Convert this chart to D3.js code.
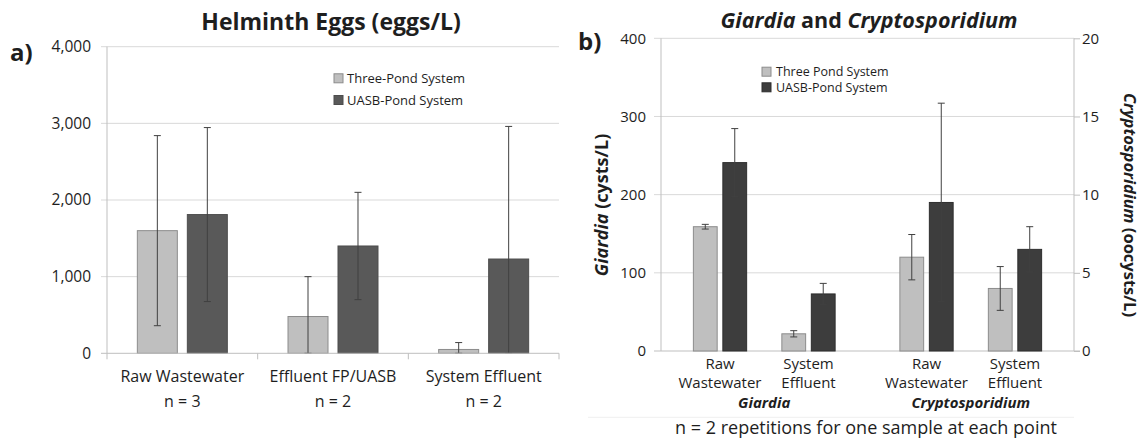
<!DOCTYPE html>
<html><head><meta charset="utf-8">
<script src="https://cdn.jsdelivr.net/npm/d3@7"></script>
<style>
body{margin:0;background:#fff;}
svg{display:block;font-family:"Open Sans",sans-serif;}
</style></head><body>
<svg id="chart" width="1144" height="441"></svg>
<script>
// ---------- DATA ----------
const seriesNamesA = ["Three-Pond System", "UASB-Pond System"];
const helminthCategories = ["Raw Wastewater", "Effluent FP/UASB", "System Effluent"];
const helminthN = ["n = 3", "n = 2", "n = 2"];
const helminthThreePond = [1600, 480, 50];
const helminthThreePondErr = [1240, 520, 90];
const helminthUASB = [1810, 1400, 1230];
const helminthUASBErr = [1135, 700, 1730];
const helminthTicks = [0, 1000, 2000, 3000, 4000];

const seriesNamesB = ["Three Pond System", "UASB-Pond System"];
const pathogenGroups = ["Giardia", "Cryptosporidium"];
const samplePoints = ["Raw Wastewater", "System Effluent"];
const samplePointLines = [["Raw", "Wastewater"], ["System", "Effluent"]];
const giardiaThreePond = [159, 22];
const giardiaThreePondErr = [3, 4];
const giardiaUASB = [241, 73];
const giardiaUASBErr = [43.5, 13.5];
const cryptoThreePond = [6.0, 4.0];
const cryptoThreePondErr = [1.45, 1.4];
const cryptoUASB = [9.5, 6.5];
const cryptoUASBErr = [6.35, 1.45];
const giardiaTicks = [0, 100, 200, 300, 400];
const cryptoTicks = [0, 5, 10, 15, 20];

// ---------- STYLE ----------
const svg = d3.select("#chart");
const textColor = "#1e1e1e";
const gridColor = "#d9d9d9";
const axisColor = "#bfbfbf";
const lightFill = "#bfbfbf", lightStroke = "#8c8c8c";
const darkFillA = "#595959", darkStrokeA = "#4d4d4d";
const darkFillB = "#3d3d3d", darkStrokeB = "#2e2e2e";
const errColor = "#404040";

function errorBar(g, x, yScale, v, e, cap) {
  const lo = Math.max(yScale.domain()[0], v - e);
  const hi = v + e;
  g.append("line").attr("x1", x).attr("x2", x).attr("y1", yScale(lo)).attr("y2", yScale(hi))
    .attr("stroke", errColor).attr("stroke-width", 1);
  [lo, hi].forEach(val => {
    g.append("line").attr("x1", x - cap).attr("x2", x + cap).attr("y1", yScale(val)).attr("y2", yScale(val))
      .attr("stroke", errColor).attr("stroke-width", 1);
  });
}

// ---------- PANEL A ----------
const A = {left: 107, right: 559, top: 46.7, bottom: 353.3};
const xA = d3.scaleBand().domain(helminthCategories).range([A.left, A.right]).padding(0);
const sA = d3.scaleBand().domain(seriesNamesA).range([0, xA.bandwidth()]).paddingInner(0.2).paddingOuter(0.607);
const yA = d3.scaleLinear().domain([0, 4000]).range([A.bottom, A.top]);
const gA = svg.append("g");

gA.selectAll("line.grid").data(helminthTicks.filter(d => d > 0)).join("line")
  .attr("x1", A.left - 6).attr("x2", A.right).attr("y1", d => yA(d)).attr("y2", d => yA(d))
  .attr("stroke", gridColor).attr("stroke-width", 1);
gA.append("line").attr("x1", A.left).attr("x2", A.left).attr("y1", A.top).attr("y2", A.bottom)
  .attr("stroke", axisColor);

const yAxisA = gA.append("g").attr("transform", `translate(${A.left},0)`)
  .call(d3.axisLeft(yA).tickValues(helminthTicks).tickSize(0).tickPadding(16).tickFormat(d3.format(",")));
yAxisA.select(".domain").remove();
yAxisA.selectAll("text").attr("fill", textColor).style("font-size", "15.5px").style("font-family", '"Open Sans",sans-serif');

// bars
const barsA = [
  {name: seriesNamesA[0], vals: helminthThreePond, errs: helminthThreePondErr, fill: lightFill, stroke: lightStroke},
  {name: seriesNamesA[1], vals: helminthUASB, errs: helminthUASBErr, fill: darkFillA, stroke: darkStrokeA}
];
barsA.forEach(s => {
  helminthCategories.forEach((c, i) => {
    const x = xA(c) + sA(s.name);
    gA.append("rect").attr("x", x).attr("y", yA(s.vals[i])).attr("width", sA.bandwidth())
      .attr("height", yA(0) - yA(s.vals[i])).attr("fill", s.fill).attr("stroke", s.stroke).attr("stroke-width", 1);
  });
});
barsA.forEach(s => {
  helminthCategories.forEach((c, i) => {
    errorBar(gA, xA(c) + sA(s.name) + sA.bandwidth() / 2, yA, s.vals[i], s.errs[i], 3.5);
  });
});
// x axis
gA.append("line").attr("x1", A.left - 6).attr("x2", A.right).attr("y1", A.bottom).attr("y2", A.bottom)
  .attr("stroke", axisColor);
[...helminthCategories.map(c => xA(c)), A.right].forEach(x => {
  gA.append("line").attr("x1", x).attr("x2", x).attr("y1", A.bottom).attr("y2", A.bottom + 6).attr("stroke", axisColor);
});
helminthCategories.forEach((c, i) => {
  const cx = xA(c) + xA.bandwidth() / 2;
  gA.append("text").attr("x", cx).attr("y", 382).attr("text-anchor", "middle").attr("fill", textColor)
    .style("font-size", "16px").text(c);
  gA.append("text").attr("x", cx).attr("y", 407).attr("text-anchor", "middle").attr("fill", textColor)
    .style("font-size", "16px").text(helminthN[i]);
});
// legend
barsA.forEach((s, i) => {
  const cy = 78.3 + i * 21.7;
  gA.append("rect").attr("x", 334).attr("y", cy - 4.5).attr("width", 9).attr("height", 9)
    .attr("fill", s.fill).attr("stroke", s.stroke);
  gA.append("text").attr("x", 347).attr("y", cy).attr("dy", "0.35em").attr("fill", textColor)
    .style("font-size", "13px").text(s.name);
});
// title
gA.append("text").attr("x", 331).attr("y", 30).attr("text-anchor", "middle").attr("fill", textColor)
  .style("font-size", "23px").style("font-weight", "bold").text("Helminth Eggs (eggs/L)");
svg.append("text").attr("x", 10).attr("y", 61).attr("fill", textColor)
  .style("font-size", "24px").style("font-weight", "bold").text("a)");

// ---------- PANEL B ----------
const B = {left: 661, right: 1074, top: 38.3, bottom: 351};
const x0 = d3.scaleBand().domain(pathogenGroups).range([B.left, B.right]).padding(0);
const x1 = d3.scaleBand().domain(samplePoints).range([0, x0.bandwidth()]).paddingInner(0).paddingOuter(0.167);
const x2 = d3.scaleBand().domain(seriesNamesB).range([0, x1.bandwidth()]).paddingInner(0.193).paddingOuter(0.597);
const yG = d3.scaleLinear().domain([0, 400]).range([B.bottom, B.top]);
const yC = d3.scaleLinear().domain([0, 20]).range([B.bottom, B.top]);
const gB = svg.append("g");

gB.selectAll("line.grid").data(giardiaTicks.filter(d => d > 0)).join("line")
  .attr("x1", B.left - 7).attr("x2", B.right).attr("y1", d => yG(d)).attr("y2", d => yG(d))
  .attr("stroke", gridColor);
gB.append("line").attr("x1", B.left).attr("x2", B.left).attr("y1", B.top).attr("y2", B.bottom).attr("stroke", axisColor);
gB.append("line").attr("x1", B.right).attr("x2", B.right).attr("y1", B.top).attr("y2", B.bottom).attr("stroke", axisColor);
gB.append("line").attr("x1", B.left - 7).attr("x2", B.right + 6).attr("y1", B.bottom).attr("y2", B.bottom).attr("stroke", axisColor);

const yAxisBL = gB.append("g").attr("transform", `translate(${B.left},0)`)
  .call(d3.axisLeft(yG).tickValues(giardiaTicks).tickSize(0).tickPadding(15));
yAxisBL.select(".domain").remove();
yAxisBL.selectAll("text").attr("fill", textColor).style("font-size", "15px").style("font-family", '"Open Sans",sans-serif');

const yAxisBR = gB.append("g").attr("transform", `translate(${B.right},0)`)
  .call(d3.axisRight(yC).tickValues(cryptoTicks).tickSize(6).tickPadding(2));
yAxisBR.select(".domain").remove();
yAxisBR.selectAll("line").attr("stroke", axisColor);
yAxisBR.selectAll("text").attr("fill", textColor).style("font-size", "15px").style("font-family", '"Open Sans",sans-serif');

const groupsB = [
  {group: pathogenGroups[0], scale: yG, series: [
    {name: seriesNamesB[0], vals: giardiaThreePond, errs: giardiaThreePondErr, fill: lightFill, stroke: lightStroke},
    {name: seriesNamesB[1], vals: giardiaUASB, errs: giardiaUASBErr, fill: darkFillB, stroke: darkStrokeB}]},
  {group: pathogenGroups[1], scale: yC, series: [
    {name: seriesNamesB[0], vals: cryptoThreePond, errs: cryptoThreePondErr, fill: lightFill, stroke: lightStroke},
    {name: seriesNamesB[1], vals: cryptoUASB, errs: cryptoUASBErr, fill: darkFillB, stroke: darkStrokeB}]}
];
groupsB.forEach(G => {
  G.series.forEach(s => {
    samplePoints.forEach((p, i) => {
      const x = x0(G.group) + x1(p) + x2(s.name);
      gB.append("rect").attr("x", x).attr("y", G.scale(s.vals[i])).attr("width", x2.bandwidth())
        .attr("height", G.scale(0) - G.scale(s.vals[i])).attr("fill", s.fill).attr("stroke", s.stroke);
    });
  });
  G.series.forEach(s => {
    samplePoints.forEach((p, i) => {
      errorBar(gB, x0(G.group) + x1(p) + x2(s.name) + x2.bandwidth() / 2, G.scale, s.vals[i], s.errs[i], 3.5);
    });
  });
  samplePoints.forEach((p, i) => {
    const cx = x0(G.group) + x1(p) + x1.bandwidth() / 2;
    samplePointLines[i].forEach((ln, k) => {
      gB.append("text").attr("x", cx).attr("y", 368.5 + k * 19.4).attr("text-anchor", "middle")
        .attr("fill", textColor).style("font-size", "15px").text(ln);
    });
  });
  gB.append("text").attr("x", x0(G.group) + x0.bandwidth() / 2).attr("y", 408).attr("text-anchor", "middle")
    .attr("fill", textColor).style("font-size", "15px").style("font-weight", "bold").style("font-style", "italic")
    .text(G.group);
});
// legend B
groupsB[0].series.forEach((s, i) => {
  const cy = 71.7 + i * 15.6;
  gB.append("rect").attr("x", 762).attr("y", cy - 4.5).attr("width", 9).attr("height", 9)
    .attr("fill", s.fill).attr("stroke", s.stroke);
  gB.append("text").attr("x", 776).attr("y", cy).attr("dy", "0.35em").attr("fill", textColor)
    .style("font-size", "12.5px").text(s.name);
});
// axis titles
const tl = gB.append("text").attr("transform", "translate(608,205) rotate(-90)").attr("text-anchor", "middle")
  .attr("fill", textColor).style("font-size", "18px").style("font-weight", "bold");
tl.append("tspan").style("font-style", "italic").text("Giardia");
tl.append("tspan").text(" (cysts/L)");
const tr = gB.append("text").attr("transform", "translate(1124,205) rotate(90)").attr("text-anchor", "middle")
  .attr("fill", textColor).style("font-size", "16.5px").style("font-weight", "bold");
tr.append("tspan").style("font-style", "italic").text("Cryptosporidium");
tr.append("tspan").text(" (oocysts/L)");
// title
const tt = gB.append("text").attr("x", 869).attr("y", 28).attr("text-anchor", "middle").attr("fill", textColor)
  .style("font-size", "21.5px").style("font-weight", "bold");
tt.append("tspan").style("font-style", "italic").text("Giardia");
tt.append("tspan").text(" and ");
tt.append("tspan").style("font-style", "italic").text("Cryptosporidium");
svg.append("text").attr("x", 578).attr("y", 50).attr("fill", textColor)
  .style("font-size", "24px").style("font-weight", "bold").text("b)");
// footnote
gB.append("line").attr("x1", 588).attr("x2", 1074).attr("y1", 417.3).attr("y2", 417.3).attr("stroke", "#efefef");
gB.append("text").attr("x", 866).attr("y", 433.5).attr("text-anchor", "middle").attr("fill", textColor)
  .style("font-size", "18px").text("n = 2 repetitions for one sample at each point");
</script>
</body></html>
